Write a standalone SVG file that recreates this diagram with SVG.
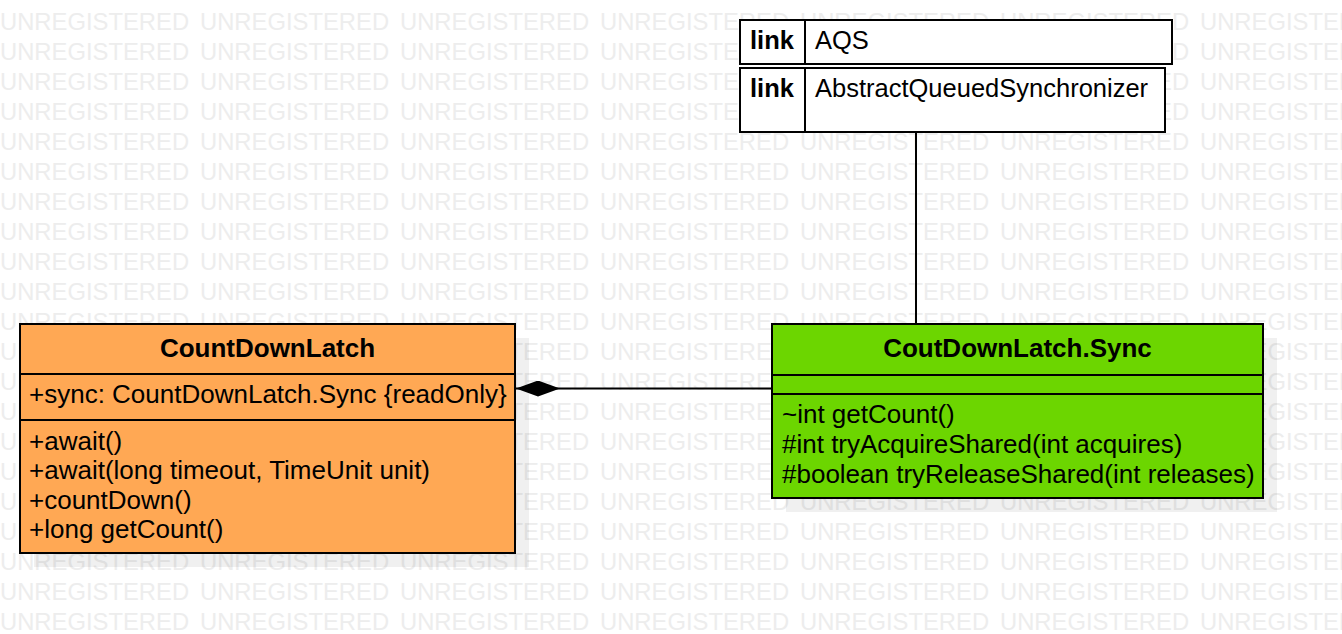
<svg xmlns="http://www.w3.org/2000/svg" xmlns:xlink="http://www.w3.org/1999/xlink" width="1342" height="634" viewBox="0 0 1342 634">
<style>
.wm{font-family:"Liberation Sans",Arial,sans-serif;font-size:23.8px;fill:#ededed}
.bx{stroke:#000;stroke-width:2}
.t{font-family:"Liberation Sans",Arial,sans-serif;font-size:26px;fill:#000}
.lk{font-family:"Liberation Sans",Arial,sans-serif;font-size:25.5px;fill:#000}
.b{font-weight:bold}
.ln{stroke:#000;stroke-width:2;fill:none}
.sh{fill:#000;fill-opacity:0.06}
</style>
<defs>
<text id="wm" class="wm"><tspan x="0">UNREGISTERED</tspan><tspan x="200">UNREGISTERED</tspan><tspan x="400">UNREGISTERED</tspan><tspan x="600">UNREGISTERED</tspan><tspan x="800">UNREGISTERED</tspan><tspan x="1000">UNREGISTERED</tspan><tspan x="1200">UNREGISTERED</tspan></text>
<marker id="diamond" markerUnits="userSpaceOnUse" viewBox="0 0 44 16" refX="0" refY="8" markerWidth="44" markerHeight="16" orient="auto"><path d="M0,8 L22,0 L44,8 L22,16 Z" fill="#000"/></marker>
</defs>
<rect width="1342" height="634" fill="#fff"/>
<g id="watermark">
<use xlink:href="#wm" y="-0.5"/><use xlink:href="#wm" y="29.5"/><use xlink:href="#wm" y="59.5"/><use xlink:href="#wm" y="89.5"/><use xlink:href="#wm" y="119.5"/><use xlink:href="#wm" y="149.5"/><use xlink:href="#wm" y="179.5"/><use xlink:href="#wm" y="209.5"/><use xlink:href="#wm" y="239.5"/><use xlink:href="#wm" y="269.5"/><use xlink:href="#wm" y="299.5"/><use xlink:href="#wm" y="329.5"/><use xlink:href="#wm" y="359.5"/><use xlink:href="#wm" y="389.5"/><use xlink:href="#wm" y="419.5"/><use xlink:href="#wm" y="449.5"/><use xlink:href="#wm" y="479.5"/><use xlink:href="#wm" y="509.5"/><use xlink:href="#wm" y="539.5"/><use xlink:href="#wm" y="569.5"/><use xlink:href="#wm" y="599.5"/><use xlink:href="#wm" y="629.5"/>
</g>
<g id="connectors">
<line class="ln" x1="916" y1="132" x2="916" y2="324"/>
<path class="ln" d="M516,388.5 L772,388.5" marker-start="url(#diamond)"/>
</g>
<g id="link-AQS">
<rect class="bx" x="740" y="20" width="432" height="44" fill="#fff"/>
<line class="ln" x1="805" y1="20" x2="805" y2="64"/>
<text class="lk b" x="750" y="49">link</text>
<text class="lk" x="815" y="49">AQS</text>
</g>
<g id="link-AbstractQueuedSynchronizer">
<rect class="bx" x="740" y="68" width="425" height="64" fill="#fff"/>
<line class="ln" x1="805" y1="68" x2="805" y2="132"/>
<text class="lk b" x="750" y="97">link</text>
<text class="lk" x="815" y="97">AbstractQueuedSynchronizer</text>
</g>
<g id="CountDownLatch">
<rect class="sh" x="34" y="338" width="495" height="229"/>
<rect class="bx" x="20" y="324" width="495" height="229" fill="#ffa854"/>
<line class="ln" x1="20" y1="374" x2="515" y2="374"/>
<line class="ln" x1="20" y1="420" x2="515" y2="420"/>
<text class="t b" x="267.5" y="357" text-anchor="middle">CountDownLatch</text>
<text class="t" x="29" y="403">+sync: CountDownLatch.Sync {readOnly}</text>
<text class="t" x="29" y="449.5">+await()</text>
<text class="t" x="29" y="479">+await(long timeout, TimeUnit unit)</text>
<text class="t" x="29" y="508.5">+countDown()</text>
<text class="t" x="29" y="538">+long getCount()</text>
</g>
<g id="CoutDownLatch.Sync">
<rect class="sh" x="786" y="338" width="491" height="174"/>
<rect class="bx" x="772" y="324" width="491" height="174" fill="#6cd600"/>
<line class="ln" x1="772" y1="375" x2="1263" y2="375"/>
<line class="ln" x1="772" y1="394" x2="1263" y2="394"/>
<text class="t b" x="1017.5" y="357" text-anchor="middle">CoutDownLatch.Sync</text>
<text class="t" x="782" y="423">~int getCount()</text>
<text class="t" x="782" y="452.5">#int tryAcquireShared(int acquires)</text>
<text class="t" x="782" y="482.5">#boolean tryReleaseShared(int releases)</text>
</g>
</svg>
